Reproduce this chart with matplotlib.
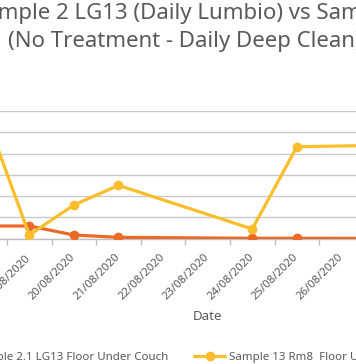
import matplotlib
matplotlib.use('Agg')
import matplotlib.pyplot as plt
from matplotlib.ticker import FixedLocator

plt.rcParams['font.family'] = ['Noto Sans', 'DejaVu Sans']

# Data (y scale units are arbitrary as axis labels are cropped)
dates = ['18/08/2020', '19/08/2020', '20/08/2020', '21/08/2020', '22/08/2020',
         '23/08/2020', '24/08/2020', '25/08/2020', '26/08/2020', '27/08/2020',
         '28/08/2020']
lg13_idx = [0, 1, 2, 3, 6, 7, 10]
lg13_vals = [29.4, 29.4, 8.2, 2.8, 0.5, 0.5, 0.3]
rm8_idx = [0, 1, 2, 3, 6, 7, 10]
rm8_vals = [297, 8.2, 78.8, 125, 22.4, 216, 221]

title_line1 = 'Sample 2 LG13 (Daily Lumbio) vs Sample 13 Rm8'
title_line2 = '(No Treatment - Daily Deep Clean)'
label_lg13 = 'Sample 2.1 LG13 Floor Under Couch'
label_rm8 = 'Sample 13 Rm8  Floor Under Couch'

orange = '#EC6A27'
yellow = '#FBBD2C'
grey_text = '#595959'
grid_col = '#C9C9C9'

W, H = 356, 364
fig = plt.figure(figsize=(W / 100, H / 100), dpi=100)

# plot area in pixels (top-left origin), it runs past the image edges
ax_top, ax_bottom = 111, 238.5
ax = fig.add_axes([0, 1 - ax_bottom / H, 1, (ax_bottom - ax_top) / H])

ax.plot(lg13_idx, lg13_vals, color=orange, lw=2.3, marker='o', ms=6,
        label=label_lg13, solid_capstyle='round', zorder=3)
ax.plot(rm8_idx, rm8_vals, color=yellow, lw=2.3, marker='o', ms=6,
        label=label_rm8, solid_capstyle='round', zorder=4)

ax.set_yticks(range(0, 301, 50))
ax.yaxis.grid(True, color=grid_col, lw=1)
ax.set_axisbelow(True)
ax.tick_params(axis='y', left=False, labelleft=False)
for s in ['left', 'right', 'top']:
    ax.spines[s].set_visible(False)
ax.spines['bottom'].set_color('#BFBFBF')
ax.spines['bottom'].set_linewidth(1)

ax.set_xticks(range(len(dates)))
ax.set_xticklabels(dates, rotation=45, ha='right', va='center',
                   rotation_mode='anchor', color=grey_text, fontsize=8.2)
ax.tick_params(axis='x', which='major', length=0, pad=12.5)
ax.xaxis.set_minor_locator(FixedLocator([i + 0.5 for i in range(-1, len(dates))]))
ax.tick_params(axis='x', which='minor', length=4, color='#BFBFBF', width=1)

# limits last, so the ticks do not widen them
step_px = 44.6
x19_px = 29.3
ax.set_xlim(1 - x19_px / step_px, 1 + (W - x19_px) / step_px)
ax.set_ylim(0, 300)

fig.text(207 / W, 1 - 317 / H, 'Date', ha='center', va='center',
         color=grey_text, fontsize=9.6)

fig.text(-27 / W, 1 - 14 / H, title_line1, ha='left', va='center',
         color=grey_text, fontsize=16)
fig.text(8 / W, 1 - 42 / H, title_line2, ha='left', va='center',
         color=grey_text, fontsize=16)

h_lg13, h_rm8 = ax.get_lines()
leg1 = fig.legend(handles=[h_lg13], loc='center right',
                  bbox_to_anchor=(168 / W, 1 - 357 / H), frameon=False,
                  fontsize=8.3, borderpad=0, borderaxespad=0,
                  handlelength=2.7, handletextpad=0.35, labelcolor=grey_text)
leg2 = fig.legend(handles=[h_rm8], loc='center left',
                  bbox_to_anchor=(194 / W, 1 - 357 / H), frameon=False,
                  fontsize=8.3, borderpad=0, borderaxespad=0,
                  handlelength=2.7, handletextpad=0.35, labelcolor=grey_text)

fig.savefig('out.png', dpi=100, facecolor='white')
